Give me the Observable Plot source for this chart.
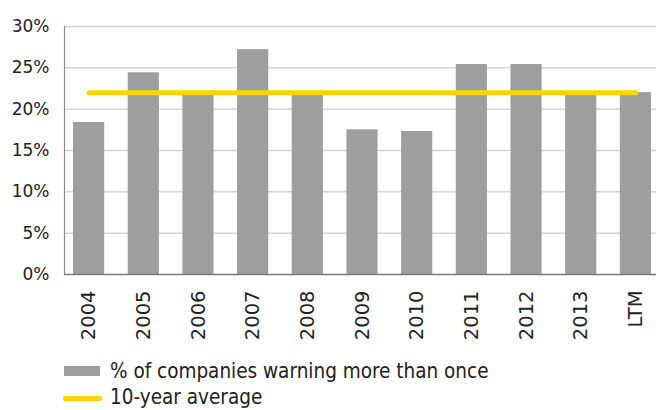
<!DOCTYPE html>
<html>
<head>
<meta charset="utf-8">
<script src="https://cdn.jsdelivr.net/npm/d3@7"></script>
<script src="https://cdn.jsdelivr.net/npm/@observablehq/plot@0.6"></script>
<style>
  html, body { margin: 0; padding: 0; background: #fff; }
  #wrap { position: relative; width: 656px; height: 410px; overflow: hidden; }
  .leg { position: absolute; left: 0; font-family: "DejaVu Sans Condensed", "DejaVu Sans", sans-serif; font-size: 20.5px; color: #222; white-space: nowrap; line-height: 1; }
  .sw { position: absolute; }
</style>
</head>
<body>
<div id="wrap"></div>
<script>
const categories = ["2004","2005","2006","2007","2008","2009","2010","2011","2012","2013","LTM"];
const warningPct = [18.4, 24.4, 21.8, 27.2, 21.8, 17.5, 17.3, 25.4, 25.4, 21.8, 22.0];
const tenYearAverage = [22.0];
const yTicks = [0, 5, 10, 15, 20, 25, 30];
const seriesLabels = ["% of companies warning more than once", "10-year average"];

const barColor = "#9d9ea0";
const lineColor = "#ffd400";

const bars = categories.map((c, i) => ({cat: c, value: warningPct[i]}));
const avgLine = categories.map(c => ({cat: c, value: tenYearAverage[0]}));

const chart = Plot.plot({
  width: 656,
  height: 358,
  marginTop: 26,
  marginBottom: 84,
  marginLeft: 64,
  marginRight: -4,
  style: {fontFamily: "DejaVu Sans, sans-serif", color: "#222", background: "transparent", overflow: "visible"},
  x: {domain: categories, paddingInner: 0.43, paddingOuter: 0.165, round: false, label: null},
  y: {domain: [0, 30], label: null},
  marks: [
    Plot.ruleY(yTicks.filter(d => d > 0), {stroke: "#d5d5d5", strokeWidth: 1.5}),
    Plot.barY(bars, {x: "cat", y: "value", fill: barColor}),
    Plot.lineY(avgLine, {x: "cat", y: "value", stroke: lineColor, strokeWidth: 5, strokeLinecap: "round"}),
    Plot.frame({anchor: "left", stroke: "#8a8a8a", strokeWidth: 1.2}),
    Plot.ruleY([0], {stroke: "#7a7a7a", strokeWidth: 1.5}),
    Plot.axisY({ticks: yTicks, tickFormat: d => d + "%", tickSize: 0, tickPadding: 15, fontSize: 17, label: null}),
    Plot.axisX({tickSize: 0, tickRotate: -90, tickPadding: 16, fontSize: 19.5, label: null})
  ]
});

const wrap = document.getElementById("wrap");
wrap.appendChild(chart);

// Legend (HTML, below the SVG)
function addLegendRow(top, label, swatchStyle) {
  const sw = document.createElement("div");
  sw.className = "sw";
  Object.assign(sw.style, swatchStyle);
  wrap.appendChild(sw);
  const t = document.createElement("div");
  t.className = "leg";
  t.style.left = "110px";
  t.style.top = top + "px";
  t.textContent = label;
  wrap.appendChild(t);
}
addLegendRow(361, seriesLabels[0], {left: "64px", top: "366px", width: "36px", height: "10px", background: barColor});
addLegendRow(387, seriesLabels[1], {left: "63px", top: "396px", width: "39px", height: "5px", background: lineColor, borderRadius: "3px"});
</script>
</body>
</html>
